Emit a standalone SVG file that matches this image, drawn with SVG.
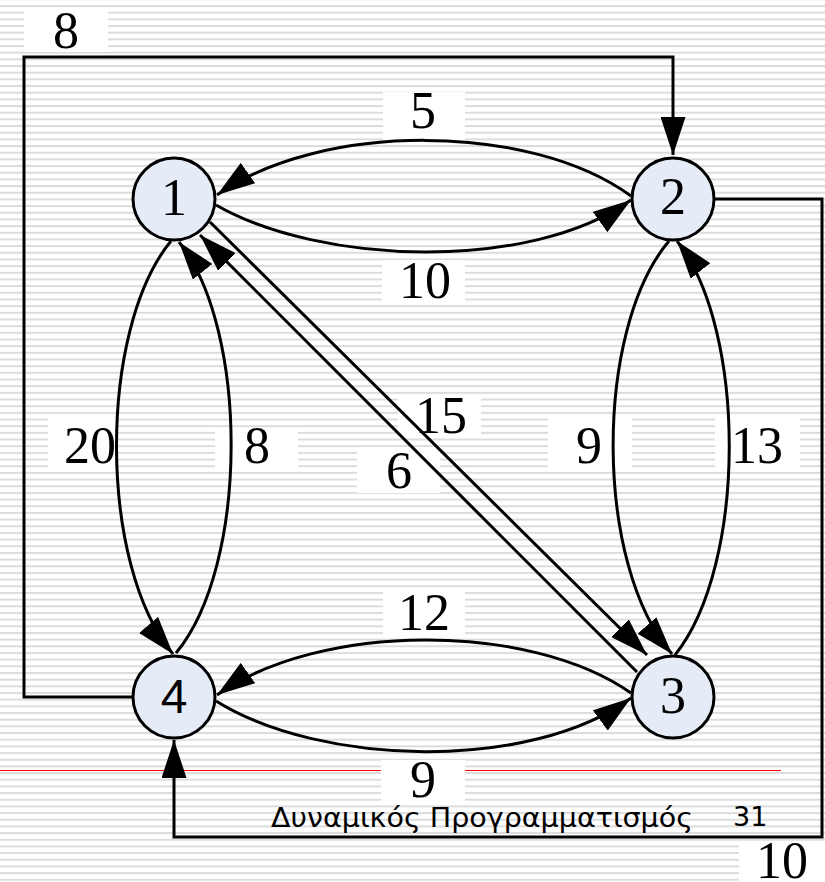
<svg xmlns="http://www.w3.org/2000/svg" width="825" height="882" viewBox="0 0 825 882">
  <defs>
    <pattern id="stripes" patternUnits="userSpaceOnUse" x="0" y="5" width="825" height="6.67">
      <rect width="825" height="2" fill="#dcdcdc"/>
    </pattern>
    <marker id="arrow" markerUnits="userSpaceOnUse" viewBox="0 0 38 25" markerWidth="38" markerHeight="25" refX="38" refY="12.5" orient="auto">
      <path d="M0,0 L38,12.5 L0,25 Z" fill="#000"/>
    </marker>
  </defs>
  <style>
    .edge{fill:none;stroke:#000;stroke-width:3;marker-end:url(#arrow)}
    .node circle{fill:#e6ecf7;stroke:#000;stroke-width:3}
    .num{font-family:"Liberation Serif","Times New Roman",serif;font-size:52px;text-anchor:middle;fill:#000}
    .sans{font-family:"Liberation Sans",Arial,sans-serif;font-size:48px;text-anchor:middle;fill:#000}
    .box{fill:#fff}
    .foot{font-family:"DejaVu Sans",Verdana,sans-serif;font-size:27px;fill:#000}
  </style>

  <!-- striped page background -->
  <rect width="825" height="882" fill="#fff"/>
  <rect width="825" height="882" fill="url(#stripes)"/>

  <!-- footer rule and caption -->
  <path d="M0,770.5 H781" stroke="#ff0000" stroke-width="1" fill="none"/>
  <text class="foot" x="271" y="827" textLength="422" lengthAdjust="spacingAndGlyphs">Δυναμικός Προγραμματισμός</text>
  <text class="foot" x="733" y="826">31</text>

  <!-- white backgrounds behind the weight labels -->
  <g id="label-boxes">
    <rect class="box" x="24" y="10" width="84" height="42"/>
    <rect class="box" x="383" y="92" width="82" height="48"/>
    <rect class="box" x="382" y="260" width="83" height="42"/>
    <rect class="box" x="398" y="397" width="83" height="40"/>
    <rect class="box" x="357" y="447" width="83" height="46"/>
    <rect class="box" x="48" y="417" width="69" height="53"/>
    <rect class="box" x="215" y="428" width="83" height="40"/>
    <rect class="box" x="548" y="417" width="84" height="53"/>
    <rect class="box" x="715" y="417" width="85" height="53"/>
    <rect class="box" x="383" y="590" width="82" height="45"/>
    <rect class="box" x="381" y="760" width="84" height="42"/>
    <rect class="box" x="739" y="842" width="86" height="40"/>
  </g>

  <!-- connectors -->
  <g id="edges">
    <path class="edge" d="M132,697 H24 V57 H673 V155"/>
    <path class="edge" d="M715,199 H822 V837 H174 V740"/>
    <path class="edge" d="M216,205 C320,265 530,272 631,200"/>
    <path class="edge" d="M631,196 C530,122 320,122 217,195"/>
    <path class="edge" d="M631,693 C530,622 320,622 217,695"/>
    <path class="edge" d="M216,701 C320,766 530,772 631,698"/>
    <path class="edge" d="M171,241 C98,330 98,565 173,654"/>
    <path class="edge" d="M176,653 C249,565 249,330 179,242"/>
    <path class="edge" d="M669,241 C594,330 594,565 672,654"/>
    <path class="edge" d="M675,655 C747,565 747,330 677,241"/>
    <path class="edge" d="M210,222 L647,655"/>
    <path class="edge" d="M637,672 L200,235"/>
  </g>

  <!-- weight labels -->
  <g id="labels">
    <text class="num" x="66" y="48">8</text>
    <text class="num" x="423" y="128">5</text>
    <text class="num" x="425" y="298">10</text>
    <text class="num" x="441" y="433">15</text>
    <text class="num" x="399" y="488">6</text>
    <text class="num" x="90" y="463">20</text>
    <text class="num" x="257" y="463">8</text>
    <text class="num" x="589" y="463">9</text>
    <text class="num" x="757" y="463">13</text>
    <text class="num" x="424" y="630">12</text>
    <text class="num" x="423" y="797">9</text>
    <text class="num" x="782" y="878">10</text>
  </g>

  <!-- vertices -->
  <g id="node1" class="node">
    <circle cx="174" cy="199" r="41"/>
    <text class="num" x="174" y="215">1</text>
  </g>
  <g id="node2" class="node">
    <circle cx="673" cy="199" r="41"/>
    <text class="num" x="673" y="214">2</text>
  </g>
  <g id="node3" class="node">
    <circle cx="673" cy="697" r="41"/>
    <text class="num" x="673" y="713">3</text>
  </g>
  <g id="node4" class="node">
    <circle cx="174" cy="697" r="41"/>
    <text class="sans" x="174" y="713">4</text>
  </g>
</svg>
